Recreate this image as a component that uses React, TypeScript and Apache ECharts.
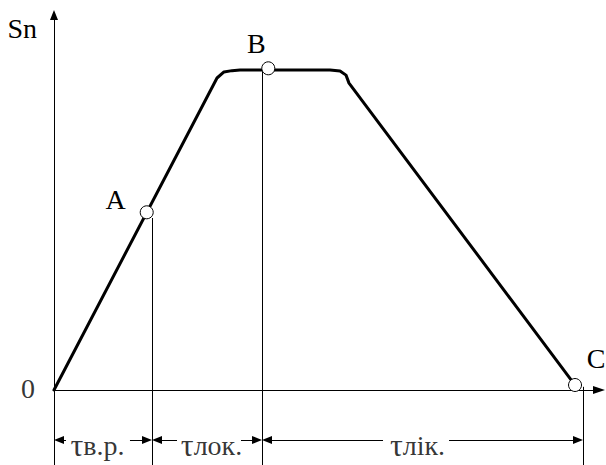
import React, { useEffect, useRef } from 'react';
import * as echarts from 'echarts';

// Curve Sn(t): ramp-up, plateau, ramp-down (arbitrary units)
const curveT = [0, 29.91, 31.19, 32.66, 34.13, 50.64, 52.48, 53.58, 54.13, 96.15];
const curveS = [0, 97.5, 99.4, 99.8, 100, 100, 99.7, 98.4, 95.9, 0.3];

// Marked points
const pointNames = ['A', 'B', 'C'];
const pointT = [17.01, 39.32, 95.6];
const pointS = [55.53, 100.53, 1.56];

// Interval boundaries (vertical guide lines); first is the origin / y-axis
const boundaryT = [0, 17.98, 38.17, 97.06];
const boundaryTop = [0, 53.75, 100, 1];

// Interval labels
const intervalNames = ['в.р.', 'лок.', 'лік.'];
const intervalLabelT = [7.98, 28.9, 66.7];
const intervalGapStart = [2.2, 22.57, 60.37];
const intervalGapEnd = [13.94, 34.31, 72.48];
const dimensionS = -15.63;

const X_MIN = 0;
const X_MAX = 100;
const Y_MIN = -23.4375;
const Y_MAX = 117.1875;

// layout
const GRID_LEFT = 54;
const GRID_RIGHT = 7;
const CHART_W = 606;
const PX_PER_T = (CHART_W - GRID_LEFT - GRID_RIGHT) / (X_MAX - X_MIN);
const ARROW_HALF = 5 / PX_PER_T; // markLine triangles are centred on the end point

const FONT = 'Liberation Serif, serif';
const pointLabelOffsets: [number, number][] = [[-31, -13], [-12, -25], [21, -26.5]];

function buildOption(): any {
  const guideLines = boundaryT.slice(1).map((t, i) => [
    { coord: [t, boundaryTop[i + 1]] },
    { coord: [t, Y_MIN] },
  ]);
  const dimLines: any[] = [];
  intervalNames.forEach((_, i) => {
    dimLines.push([
      { coord: [boundaryT[i] + ARROW_HALF, dimensionS], symbol: 'triangle' },
      { coord: [intervalGapStart[i], dimensionS], symbol: 'none' },
    ]);
    dimLines.push([
      { coord: [intervalGapEnd[i], dimensionS], symbol: 'none' },
      { coord: [boundaryT[i + 1] - ARROW_HALF, dimensionS], symbol: 'triangle' },
    ]);
  });

  return {
    animation: false,
    backgroundColor: '#fff',
    grid: { left: GRID_LEFT, right: GRID_RIGHT, top: 15, bottom: 0, containLabel: false },
    xAxis: {
      type: 'value',
      min: X_MIN,
      max: X_MAX,
      axisLine: {
        onZero: true,
        symbol: ['none', 'triangle'],
        symbolSize: [8, 12],
        lineStyle: { color: '#000', width: 1 },
      },
      axisTick: { show: false },
      axisLabel: { show: false },
      splitLine: { show: false },
    },
    yAxis: {
      type: 'value',
      min: Y_MIN,
      max: Y_MAX,
      name: 'Sn',
      nameLocation: 'end',
      nameGap: -13,
      nameTextStyle: {
        fontFamily: FONT,
        fontSize: 28,
        color: '#000',
        align: 'right',
        verticalAlign: 'middle',
        padding: [0, 17, 0, 0],
      },
      axisLine: {
        onZero: true,
        symbol: ['none', 'triangle'],
        symbolSize: [8, 10],
        lineStyle: { color: '#000', width: 1 },
      },
      axisTick: { show: false },
      axisLabel: { show: false },
      splitLine: { show: false },
    },
    series: [
      {
        type: 'line',
        data: [],
        silent: true,
        markLine: {
          silent: true,
          symbol: ['none', 'none'],
          label: { show: false },
          lineStyle: { color: '#000', width: 1, type: 'solid' },
          data: guideLines,
        },
      },
      {
        type: 'line',
        data: [],
        silent: true,
        markLine: {
          silent: true,
          symbolSize: [8, 10],
          label: { show: false },
          itemStyle: { color: '#000' },
          lineStyle: { color: '#000', width: 1, type: 'solid' },
          data: dimLines,
        },
      },
      {
        type: 'line',
        data: curveT.map((t, i) => [t, curveS[i]]),
        symbol: 'none',
        clip: false,
        z: 3,
        lineStyle: { color: '#000', width: 3, cap: 'round', join: 'round' },
      },
      {
        type: 'scatter',
        z: 5,
        symbol: 'circle',
        symbolSize: 13,
        itemStyle: { color: '#fff', borderColor: '#000', borderWidth: 1, opacity: 1 },
        data: pointNames.map((n, i) => ({
          name: n,
          value: [pointT[i], pointS[i]],
          label: {
            show: true,
            formatter: n,
            position: 'inside',
            offset: pointLabelOffsets[i],
            fontFamily: FONT,
            fontSize: 28,
            color: '#000',
          },
        })),
      },
      {
        type: 'scatter',
        z: 6,
        symbolSize: 0,
        silent: true,
        data: [
          {
            value: [0, 0],
            label: {
              show: true,
              formatter: '0',
              position: 'inside',
              offset: [-26, -2],
              fontFamily: FONT,
              fontSize: 28,
              color: '#000',
            },
          },
          ...intervalNames.map((n, i) => ({
            value: [intervalLabelT[i], dimensionS],
            label: {
              show: true,
              formatter: '{t|τ}{s|' + n + '}',
              position: 'inside',
              offset: [0, 5],
              lineHeight: 28,
              rich: {
                t: { fontFamily: FONT, fontSize: 32, lineHeight: 28, color: '#000' },
                s: { fontFamily: FONT, fontSize: 28, lineHeight: 28, color: '#000' },
              },
            },
          })),
        ],
      },
    ],
  };
}

export default function App() {
  const ref = useRef<HTMLDivElement>(null);
  useEffect(() => {
    const chart = echarts.init(ref.current!, null, { renderer: 'svg' });
    chart.setOption(buildOption());
    return () => chart.dispose();
  }, []);
  return (
    <div
      ref={ref}
      style={{ position: 'fixed', left: 0, top: 0, width: 606, height: 465, background: '#fff' }}
    />
  );
}
